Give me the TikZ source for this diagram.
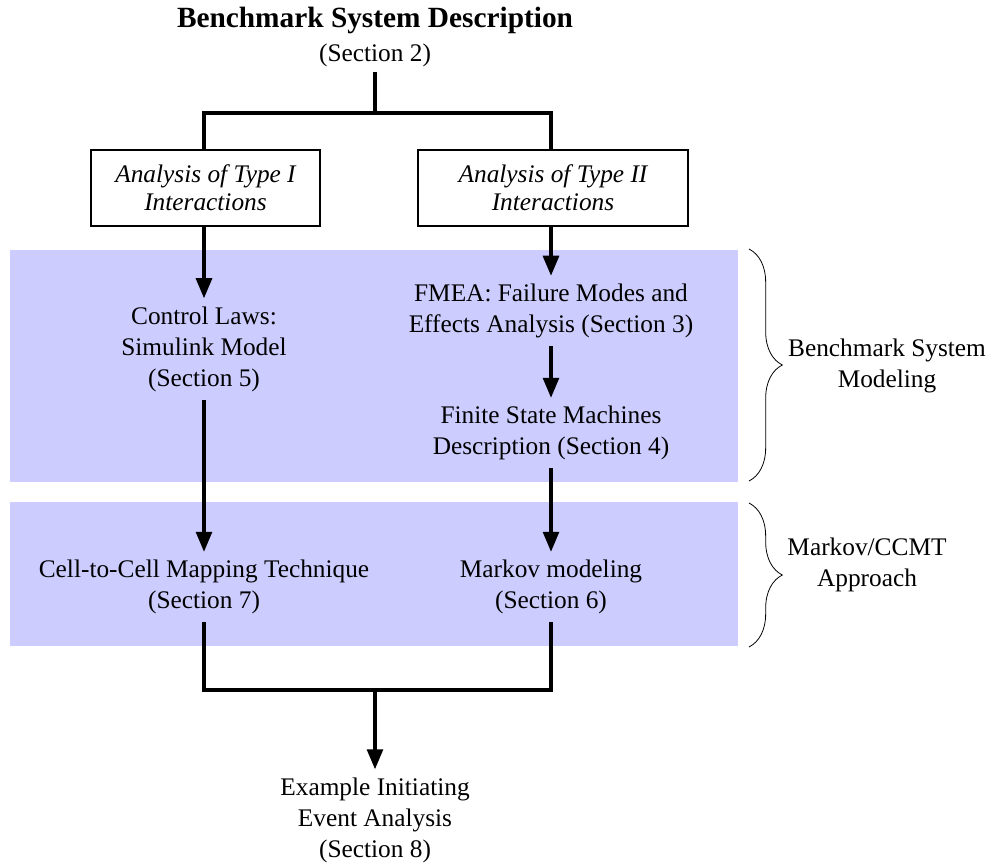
\documentclass[tikz,border=0pt]{standalone}
\usepackage{fontspec}
\setmainfont{Liberation Serif}
\usetikzlibrary{arrows.meta,decorations.pathreplacing}
\definecolor{bandblue}{RGB}{204,204,255}
\begin{document}
\begin{tikzpicture}[x=0.75pt,y=-0.75pt,
  txt/.style={align=center,font=\fontsize{19}{23.25}\selectfont,inner sep=6pt},
  ttl/.style={align=center,font=\fontsize{22}{26}\selectfont\bfseries,inner sep=2pt},
  box/.style={draw,line width=1.1pt,align=center,font=\fontsize{19}{21}\selectfont\itshape,inner sep=0pt,minimum height=57pt},
  conn/.style={line width=2.3pt},
  arr/.style={conn,-{Triangle[length=15pt,width=12pt]}},
  brc/.style={decorate,decoration={brace,amplitude=25pt},line width=0.6pt}]
\useasboundingbox (0,0) rectangle (993,867);
% background bands
\fill[bandblue] (10,250) rectangle (738,482);
\fill[bandblue] (10,502) rectangle (738,646);
% nodes
\node[ttl] (title) at (375,20) {Benchmark System Description};
\node[txt,inner sep=4pt] (sec2) at (375,55) {(Section 2)};
\node[box,minimum width=172pt] (t1) at (205.5,188) {Analysis of Type I\\Interactions};
\node[box,minimum width=202.5pt] (t2) at (553,188) {Analysis of Type II\\Interactions};
\node[txt] (cl) at (204,349) {Control Laws:\\Simulink Model\\(Section 5)};
\node[txt] (fmea) at (551,311) {FMEA: Failure Modes and\\Effects Analysis (Section 3)};
\node[txt] (fsm) at (551,433) {Finite State Machines\\Description (Section 4)};
\node[txt] (cc) at (204,587) {Cell-to-Cell Mapping Technique\\(Section 7)};
\node[txt] (mk) at (551,587) {Markov modeling\\(Section 6)};
\node[txt] (ex) at (375,820) {Example Initiating\\Event Analysis\\(Section 8)};
\node[txt] (lab1) at (887,366) {Benchmark System\\Modeling};
\node[txt] (lab2) at (867,565) {Markov/CCMT\\Approach};
\coordinate (j1) at (375,113);
\coordinate (j2) at (375,690);
% connectors
\draw[conn] (sec2.south) -- (j1);
\draw[conn] (t1.north -| cl) -- (j1 -| cl) -- (j1 -| fmea) -- (t2.north -| fmea);
\draw[arr] (t1.south -| cl) -- (cl.north);
\draw[arr] (t2.south -| fmea) -- (fmea.north);
\draw[arr] (fmea.south) -- (fsm.north);
\draw[arr] (cl.south) -- (cc.north);
\draw[arr] (fsm.south) -- (mk.north);
\draw[conn] (cc.south) -- (cc.south |- j2) -- (mk.south |- j2) -- (mk.south);
\draw[arr] (j2) -- (ex.north);
% braces
\draw[brc] (749,249) -- (749,481);
\draw[brc] (749,503) -- (749,647);
\end{tikzpicture}
\end{document}
